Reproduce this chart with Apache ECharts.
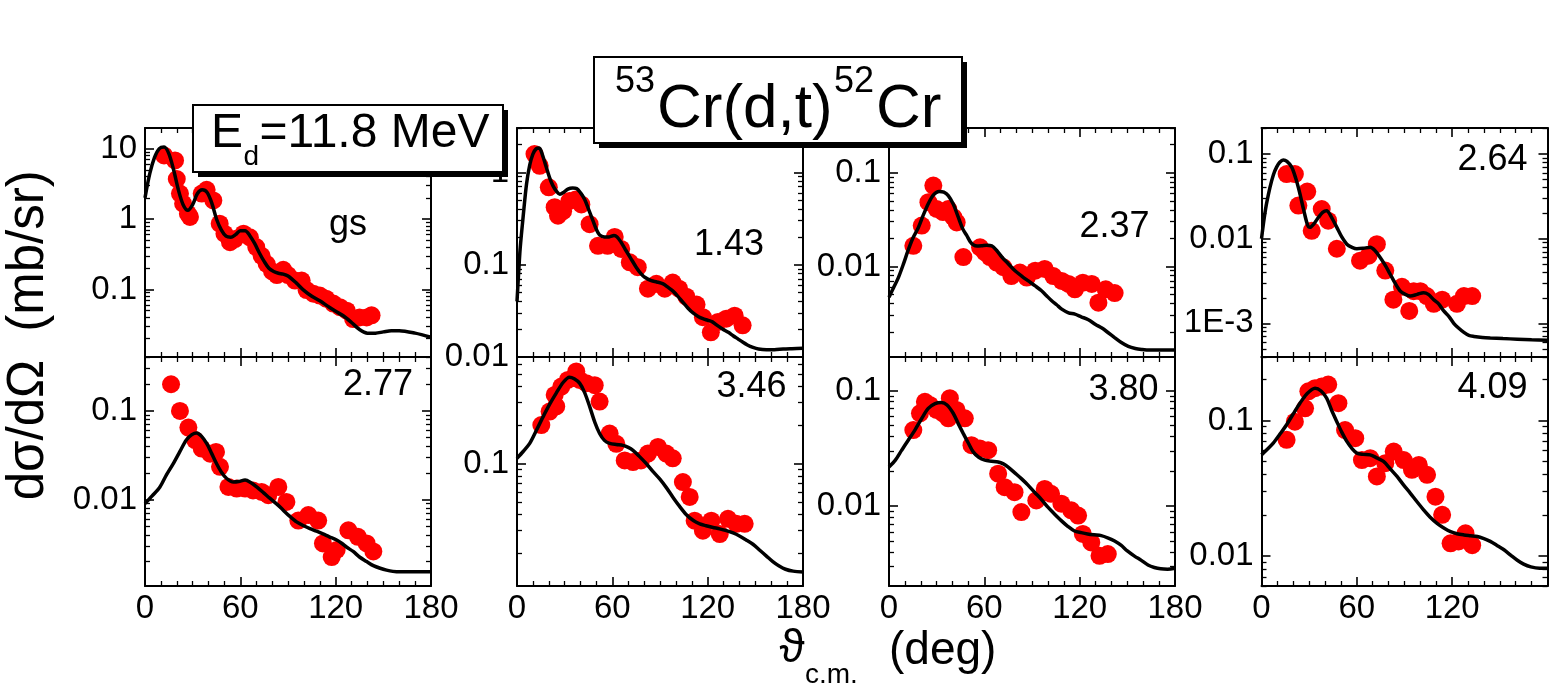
<!DOCTYPE html>
<html><head><meta charset="utf-8">
<script src="https://cdn.jsdelivr.net/npm/echarts@6/dist/echarts.min.js"></script>
<style>html,body{margin:0;padding:0;background:#fff}#c{width:1550px;height:692px}</style>
</head><body><div id="c"></div>
<script>
// ---------------- DATA ----------------
const xTicks = [0, 60, 120, 180];
const decadeTicks = [0.001, 0.01, 0.1, 1, 10];
const decadeLabels = ['1E-3', '0.01', '0.1', '1', '10'];
const stateLabels = ['gs', '1.43', '2.37', '2.64', '2.77', '3.46', '3.80', '4.09'];

const gsExp = [[12,8.0],[18.9,6.8],[20,3.7],[22,2.3],[24,1.65],[27,1.19],[28.3,1.07],[35.7,2.3],[38.8,2.6],[43,1.84],[47,0.86],[50,0.62],[53.5,0.47],[56.6,0.52],[62,0.62],[66,0.55],[70,0.40],[73.4,0.30],[76.6,0.23],[80,0.18],[83,0.16],[87,0.19],[90,0.16],[94.4,0.134],[98.6,0.134],[101.7,0.098],[106,0.087],[110,0.082],[114,0.074],[118.5,0.063],[122.7,0.056],[127,0.050],[131,0.038],[135,0.040],[139.5,0.040],[142.6,0.043]];
const gsFit = [[0,2.0],[3,4.4],[6,7.5],[9,10],[12,10.5],[15,8.5],[18,5.0],[21,2.6],[24,1.6],[27,1.33],[30,1.6],[33,2.3],[36,2.6],[39,2.4],[42,1.7],[45,1.0],[48,0.7],[51,0.57],[54,0.55],[57,0.6],[60,0.68],[63,0.68],[66,0.58],[69,0.45],[72,0.33],[75,0.25],[78,0.2],[81,0.18],[84,0.17],[87,0.165],[90,0.155],[95,0.125],[100,0.097],[105,0.08],[110,0.069],[115,0.058],[120,0.049],[125,0.042],[130,0.034],[135,0.027],[140,0.024],[145,0.024],[150,0.025],[155,0.026],[160,0.026],[170,0.024],[180,0.021]];

const e143Exp = [[11,1.58],[14.3,1.18],[20,0.69],[23.7,0.42],[25.8,0.34],[29,0.38],[33,0.49],[37,0.51],[40.5,0.45],[45.7,0.275],[51,0.16],[57,0.16],[61.5,0.20],[65.6,0.148],[71,0.106],[76,0.094],[82.4,0.055],[87.7,0.062],[93,0.055],[98,0.064],[102,0.055],[106.6,0.045],[113,0.037],[117,0.027],[122,0.0185],[126.5,0.024],[131.7,0.026],[137,0.028],[142,0.022]];
const e143Fit = [[0,0.04],[1,0.08],[2,0.15],[4,0.35],[6,0.75],[8,1.2],[10,1.58],[12,1.8],[14,1.84],[16,1.55],[18.5,1.13],[20.5,0.88],[22.6,0.72],[25,0.62],[27,0.58],[29.5,0.61],[32,0.66],[35,0.68],[37.5,0.67],[40,0.6],[42.6,0.51],[45,0.4],[47.8,0.30],[50,0.24],[52,0.21],[55,0.2],[58,0.2],[61,0.207],[63,0.2],[65.5,0.175],[68,0.148],[71.5,0.118],[75,0.094],[78,0.08],[80.4,0.073],[84.5,0.067],[88,0.065],[92,0.062],[95,0.057],[98,0.052],[101,0.046],[104.5,0.039],[107.5,0.034],[110.8,0.030],[114,0.0275],[117,0.026],[120,0.025],[123,0.024],[126,0.022],[129.6,0.020],[133,0.0185],[136,0.017],[139,0.0157],[142,0.0145],[145,0.0135],[148.5,0.0127],[152,0.0122],[157,0.012],[162,0.012],[167.5,0.0122],[173,0.0123],[180,0.0124]];

const e237Exp = [[15.3,0.0166],[20.6,0.0273],[24.8,0.0485],[27.9,0.073],[30,0.041],[34,0.038],[37.3,0.041],[40.5,0.0335],[42.6,0.0295],[46.8,0.0126],[57.3,0.016],[60.4,0.0141],[63.5,0.0126],[67.8,0.011],[72,0.0098],[77,0.0079],[82.4,0.0086],[86.7,0.0076],[92,0.009],[98,0.0094],[103.4,0.0079],[108.7,0.007],[113,0.0065],[117,0.0057],[122,0.0067],[127.6,0.0065],[131.8,0.0041],[136.4,0.0057],[142,0.0052]];
const e237Fit = [[0,0.0047],[3,0.006],[5.9,0.0076],[9,0.0105],[12,0.0148],[15,0.02],[18.5,0.026],[21.5,0.035],[24.8,0.047],[28,0.058],[31.5,0.063],[34.5,0.062],[37.3,0.057],[40.5,0.046],[43.6,0.0335],[46.5,0.025],[48.9,0.0214],[51,0.0185],[53,0.017],[55.5,0.0165],[58.3,0.0166],[61.5,0.0168],[64.7,0.0166],[67.8,0.0148],[71,0.0126],[75,0.0107],[79.3,0.009],[83.5,0.0079],[87.7,0.0070],[92,0.0062],[96,0.0055],[99,0.0049],[102.4,0.0043],[105.5,0.0039],[108.7,0.0035],[113,0.0032],[117,0.0031],[121,0.0029],[125.5,0.0027],[130,0.0024],[134,0.0022],[138,0.00196],[142,0.00174],[146,0.00155],[150.6,0.0014],[155,0.00133],[159,0.0013],[164,0.00128],[169.5,0.00128],[180,0.00128]];

const e264Exp = [[15.8,0.058],[21,0.058],[23.2,0.0246],[28.8,0.036],[31.6,0.0124],[37.9,0.0224],[42,0.0163],[47.4,0.0076],[62,0.0055],[67.4,0.0063],[72.6,0.0086],[77.9,0.0042],[83,0.0019],[88.4,0.0027],[93,0.0014],[95.8,0.0024],[100,0.0024],[104,0.0021],[108.4,0.0017],[113.7,0.0019],[123,0.0017],[127.4,0.0021],[132.6,0.0021]];
const e264Fit = [[0,0.01],[2.5,0.022],[5.3,0.040],[7.5,0.057],[9.5,0.070],[11.5,0.08],[13.7,0.085],[16,0.082],[19,0.07],[21.5,0.052],[24,0.035],[26.5,0.022],[29,0.0145],[30.5,0.0136],[33,0.015],[35.8,0.0178],[38.5,0.0205],[41,0.0214],[44,0.018],[47.4,0.0136],[50.5,0.0105],[53.7,0.0086],[57,0.0079],[60,0.0076],[64,0.0077],[68.4,0.0079],[71.5,0.0072],[74.7,0.006],[78,0.0048],[81,0.0038],[84,0.003],[87.4,0.0024],[90.5,0.0022],[93.7,0.0021],[98,0.0022],[102,0.0023],[105,0.0022],[108.4,0.0019],[111.5,0.0017],[114.7,0.0014],[118,0.0012],[121,0.001],[124,0.00088],[127.4,0.00078],[130.5,0.00072],[133.7,0.0007],[139,0.00068],[144,0.00067],[152,0.00066],[161,0.00065],[170,0.00064],[180,0.00063]];

const e277Exp = [[16.4,0.2],[22,0.1],[27.3,0.065],[31.5,0.047],[35.7,0.0376],[41,0.033],[44.7,0.0345],[47.2,0.0234],[52.5,0.0139],[57.7,0.0133],[63,0.0133],[68,0.0127],[73.4,0.0122],[77.6,0.0112],[83.9,0.0139],[89,0.0094],[96.5,0.0058],[102.8,0.0067],[109,0.0058],[112,0.0032],[117.5,0.00225],[120.6,0.0027],[128,0.0045],[134,0.0038],[139.5,0.0032],[143.7,0.0026]];
const e277Fit = [[0,0.009],[4.5,0.011],[9.4,0.0139],[13.5,0.019],[17.8,0.0255],[22,0.035],[26,0.047],[29.5,0.054],[32.5,0.0565],[35.5,0.052],[38.8,0.043],[42,0.033],[45,0.0255],[48,0.0205],[51.4,0.0173],[55.6,0.0158],[59,0.016],[63,0.0166],[66.5,0.0156],[70.3,0.0139],[74.5,0.012],[78.7,0.0103],[83,0.0089],[87,0.0076],[91,0.0065],[95.4,0.0056],[99.5,0.0051],[103.8,0.0047],[108,0.0044],[112,0.0041],[116,0.0038],[120.6,0.0035],[124,0.0032],[127,0.0029],[131,0.0026],[135,0.00225],[139.5,0.002],[143.7,0.0018],[148,0.00168],[152,0.0016],[156,0.00155],[160.5,0.00153],[170,0.00153],[180,0.00153]];

const e346Exp = [[15.3,0.2],[20.5,0.255],[23.7,0.344],[24.7,0.28],[27.9,0.40],[32,0.45],[37.3,0.525],[39.4,0.45],[43.6,0.425],[48.9,0.41],[52,0.305],[58.3,0.172],[62.5,0.143],[67.8,0.106],[73,0.103],[78,0.106],[82.4,0.12],[88.7,0.135],[94,0.12],[98,0.11],[104.4,0.0718],[108.7,0.055],[111.8,0.0359],[117,0.03],[122.3,0.0359],[127.6,0.0282],[132.8,0.0371],[138,0.0339],[143.3,0.0339]];
const e346Fit = [[0,0.11],[4,0.125],[8,0.144],[12,0.18],[16.4,0.232],[20.5,0.29],[24.7,0.355],[29,0.43],[33,0.473],[36,0.46],[39.4,0.425],[42.5,0.36],[45.7,0.28],[49,0.21],[52,0.172],[55,0.152],[58.3,0.144],[62.5,0.141],[66.7,0.139],[70,0.134],[73,0.127],[77,0.114],[81.4,0.1],[85.5,0.087],[89.8,0.076],[94,0.065],[98,0.055],[102,0.047],[106.6,0.040],[111,0.036],[115,0.0339],[119,0.0328],[123.4,0.0318],[127.5,0.031],[131.8,0.030],[136,0.0288],[140,0.0273],[144,0.0255],[148.5,0.0235],[153,0.021],[157,0.019],[161,0.0172],[165,0.0159],[169,0.015],[173.8,0.0145],[180,0.0143]];

const e380Exp = [[15.3,0.0455],[19.5,0.0636],[22.6,0.080],[25.7,0.075],[29.9,0.068],[34,0.0636],[37.3,0.0575],[38.3,0.0858],[42.5,0.068],[47.7,0.0575],[51.9,0.0337],[57.2,0.0316],[62.4,0.0305],[68.7,0.0191],[72.8,0.0146],[79,0.0132],[83.3,0.0089],[92.7,0.0112],[98,0.0141],[102,0.0128],[108.5,0.0105],[114.7,0.0092],[119,0.0083],[122,0.00575],[127.3,0.00486],[132.5,0.00372],[137.7,0.00385]];
const e380Fit = [[0,0.0218],[4,0.025],[8,0.0305],[12,0.037],[16.3,0.0455],[20.5,0.057],[24.7,0.070],[29,0.077],[33,0.0787],[36.5,0.075],[40.4,0.0636],[43.5,0.052],[46.7,0.0426],[50,0.035],[53,0.0295],[56.5,0.0265],[60.3,0.025],[64.5,0.0245],[68.7,0.0241],[72,0.0232],[75,0.0218],[79,0.0195],[83.3,0.0173],[87.5,0.0152],[91.6,0.0132],[96,0.0114],[100,0.0098],[104,0.0086],[108.4,0.0075],[112.5,0.0067],[116.7,0.0061],[121,0.0059],[125,0.00575],[129,0.00565],[133.6,0.00556],[138,0.0053],[142,0.005],[146,0.0046],[150,0.0041],[154.5,0.0037],[158.8,0.0034],[163,0.0031],[167,0.00295],[171,0.00287],[175.3,0.00285],[180,0.0029]];

const e409Exp = [[15.8,0.072],[21,0.098],[27.4,0.123],[29.5,0.164],[33.7,0.173],[37.9,0.178],[42,0.184],[48.4,0.134],[52.6,0.085],[59,0.074],[63.2,0.051],[68.4,0.0527],[72.6,0.0386],[77.9,0.0484],[83.2,0.059],[89.5,0.051],[94.7,0.0432],[99,0.047],[104.2,0.0397],[109.5,0.0274],[113.7,0.0201],[119,0.0124],[124,0.0128],[128.4,0.0147],[132.6,0.012]];
const e409Fit = [[0,0.0557],[3.5,0.061],[7.4,0.068],[11.5,0.079],[15.8,0.093],[20,0.112],[24.2,0.134],[28.5,0.157],[33.7,0.173],[37.5,0.165],[41,0.146],[44,0.12],[47.4,0.098],[50.5,0.082],[53.7,0.070],[57,0.062],[60,0.0574],[64,0.0562],[68.4,0.0557],[72.5,0.053],[76.8,0.0498],[81,0.044],[85.3,0.0386],[89.5,0.0333],[93.7,0.029],[98,0.025],[102,0.0219],[106,0.0194],[110.5,0.0174],[115,0.016],[119,0.0151],[123,0.0146],[127.4,0.0143],[131.5,0.0141],[135.8,0.0139],[140,0.0134],[144,0.0128],[148,0.012],[152.6,0.0111],[157,0.0101],[161,0.0093],[165,0.0087],[169.5,0.0083],[175,0.0081],[180,0.0081]];

// ---------------- LAYOUT ----------------
const FONT = '"Liberation Sans", Arial, Helvetica, sans-serif';
const panels = [
  {exp: gsExp,   fit: gsFit,   yMin: 0.011,   yMax: 19.6},
  {exp: e143Exp, fit: e143Fit, yMin: 0.00999, yMax: 3.03},
  {exp: e237Exp, fit: e237Fit, yMin: 0.00108, yMax: 0.30},
  {exp: e264Exp, fit: e264Fit, yMin: 0.0004,  yMax: 0.203},
  {exp: e277Exp, fit: e277Fit, yMin: 0.00106, yMax: 0.406},
  {exp: e346Exp, fit: e346Fit, yMin: 0.0111,  yMax: 0.68},
  {exp: e380Exp, fit: e380Fit, yMin: 0.00204, yMax: 0.195},
  {exp: e409Exp, fit: e409Fit, yMin: 0.006,   yMax: 0.294}
];
const colLeft = [145, 517, 889, 1261.5], rowTop = [128, 357], PW = 286, PH = 229;
const labelPos = [[348,225.5],[729,245.5],[1114.5,227.5],[1492.5,160.5],[378,385.5],[751.5,387.5],[1123.5,390.5],[1492.5,388.5]];

const minorTicks = [];
[0.0001].concat(decadeTicks).forEach(d => { for (let k = 2; k <= 9; k++) minorTicks.push(+(d * k).toPrecision(3)); });
const fmtLog = v => decadeLabels[Math.round(Math.log10(v)) + 3] || '';

const grids = [], xAxes = [], yAxes = [], series = [], graphics = [];
panels.forEach((p, i) => {
  const row = Math.floor(i / 4), col = i % 4;
  grids.push({left: colLeft[col], top: rowTop[row], width: PW, height: PH});
  ['bottom', 'top'].forEach(pos => {
    xAxes.push({
      type: 'value', gridIndex: i, position: pos, min: xTicks[0], max: xTicks[3], interval: 60,
      axisLine: {show: true, onZero: false, lineStyle: {color: '#000', width: 2}},
      axisTick: {show: true, inside: true, length: 9, lineStyle: {color: '#000', width: 1.6}},
      minorTick: {show: true, splitNumber: 6, length: 5, lineStyle: {color: '#000', width: 1.3}},
      splitLine: {show: false}, minorSplitLine: {show: false},
      axisLabel: {show: pos === 'bottom' && row === 1, color: '#000', fontSize: 33, fontFamily: FONT, margin: 6,
        showMinLabel: true, showMaxLabel: col !== 3}
    });
  });
  [['left', true], ['left', false], ['right', true], ['right', false]].forEach(([pos, major]) => {
    yAxes.push({
      type: 'log', logBase: 10, gridIndex: i, position: pos, min: p.yMin, max: p.yMax,
      axisLine: {show: major, onZero: false, lineStyle: {color: '#000', width: 2}},
      axisTick: {show: true, inside: true, length: major ? 9 : 5, customValues: major ? decadeTicks : minorTicks,
        lineStyle: {color: '#000', width: major ? 1.6 : 1.3}},
      minorTick: {show: false}, splitLine: {show: false},
      axisLabel: {show: major && pos === 'left', customValues: decadeTicks, formatter: fmtLog,
        color: '#000', fontSize: 33, fontFamily: FONT, margin: 8}
    });
  });
  series.push({type: 'scatter', xAxisIndex: 2 * i, yAxisIndex: 4 * i, data: p.exp, symbol: 'circle', symbolSize: 18,
    itemStyle: {color: '#ff0000', opacity: 1}, z: 2, silent: true});
  series.push({type: 'line', xAxisIndex: 2 * i, yAxisIndex: 4 * i, data: p.fit, smooth: 0.3, showSymbol: false,
    lineStyle: {color: '#000', width: 3.5}, z: 3, silent: true});
  graphics.push({type: 'text', x: labelPos[i][0], y: labelPos[i][1], z: 50,
    style: {text: stateLabels[i], fontSize: 36, fontFamily: FONT, fill: '#000', align: 'center', verticalAlign: 'middle', textAlign: 'center', textVerticalAlign: 'middle'}});
});

function txt(text, x, y, size, align, rot) {
  return {type: 'text', x: x, y: y, rotation: rot || 0, z: 110,
    style: {text: text, fontSize: size, fontFamily: FONT, fill: '#000', align: align, verticalAlign: 'middle', textAlign: align, textVerticalAlign: 'middle'}};
}
// E_d box
graphics.push({type: 'rect', shape: {x: 198, y: 110, width: 310, height: 67}, style: {fill: '#000'}, z: 100});
graphics.push({type: 'rect', shape: {x: 193, y: 105, width: 310, height: 67}, style: {fill: '#fff', stroke: '#000', lineWidth: 2}, z: 101});
graphics.push(txt('E', 211, 133.4, 48, 'left'));
graphics.push(txt('d', 243.5, 157, 28, 'left'));
graphics.push(txt('=11.8 MeV', 259.5, 133.4, 48, 'left'));
// reaction box
graphics.push({type: 'rect', shape: {x: 599, y: 62, width: 368, height: 86}, style: {fill: '#000'}, z: 100});
graphics.push({type: 'rect', shape: {x: 594, y: 57, width: 368, height: 86}, style: {fill: '#fff', stroke: '#000', lineWidth: 2}, z: 101});
graphics.push(txt('53', 615, 82.5, 36, 'left'));
graphics.push(txt('Cr(d,t)', 657, 110, 62, 'left'));
graphics.push(txt('52', 834, 82.5, 36, 'left'));
graphics.push(txt('Cr', 876, 110, 62, 'left'));
// axis titles
graphics.push(txt('\u03D1', 792, 649, 46, 'center'));
graphics.push(txt('c.m.', 805, 675, 28, 'left'));
graphics.push(txt('(deg)', 889, 651, 46, 'left'));
graphics.push(txt('(mb/sr)', 29, 251, 51, 'center', Math.PI / 2));
graphics.push(txt('d\u03C3/d\u03A9', 29, 430, 51, 'center', Math.PI / 2));

const chart = echarts.init(document.getElementById('c'), null, {renderer: 'canvas'});
chart.setOption({
  animation: false,
  backgroundColor: '#fff',
  grid: grids, xAxis: xAxes, yAxis: yAxes, series: series,
  graphic: {elements: graphics}
});
</script></body></html>
